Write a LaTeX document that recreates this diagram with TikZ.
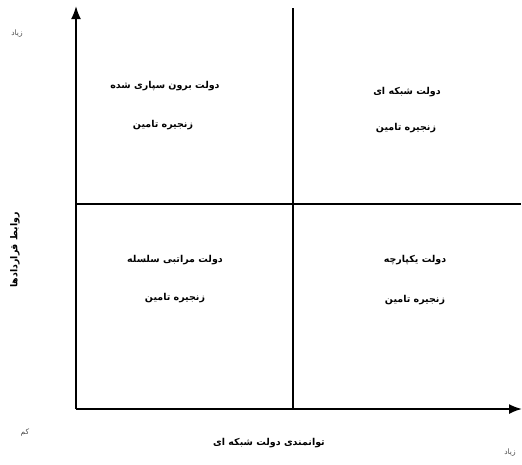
\documentclass[tikz,border=0pt]{standalone}
\usepackage{fontspec}
\newfontfamily\arabicfont[Script=Arabic]{DejaVu Sans}
\TeXXeTstate=1
\usetikzlibrary{arrows.meta}
\begin{document}
\begin{tikzpicture}[x=1pt,y=-1pt,
  axis/.style={line width=1.8pt,-{Latex[length=13pt,width=10pt]}},
  divider/.style={line width=1.6pt},
  lbl/.style={font=\arabicfont\bfseries\fontsize{9.5}{11}\selectfont,inner sep=1pt},
  small/.style={font=\arabicfont\fontsize{7.5}{9}\selectfont,text=black!70,inner sep=1pt}]
\useasboundingbox (0,0) rectangle (522,464);
\coordinate (origin) at (76,409);
\coordinate (ytip) at (76,6);
\coordinate (xtip) at (522,409);
\coordinate (vtop) at (293,8);
\coordinate (vbot) at (293,409);
\coordinate (hleft) at (76,204);
\coordinate (hright) at (521,204);
\draw[axis] (origin) -- (ytip);
\draw[axis] (origin) -- (xtip);
\draw[divider] (vtop) -- (vbot);
\draw[divider] (hleft) -- (hright);
\node[lbl] (tl1) at (165,86) {\beginR دولت برون سپاری شده\endR};
\node[lbl] (tl2) at (163,125) {\beginR زنجیره تامین\endR};
\node[lbl] (tr1) at (407,92) {\beginR دولت شبکه ای\endR};
\node[lbl] (tr2) at (406,128) {\beginR زنجیره تامین\endR};
\node[lbl] (bl1) at (175,260) {\beginR دولت مراتبی سلسله\endR};
\node[lbl] (bl2) at (175,298) {\beginR زنجیره تامین\endR};
\node[lbl] (br1) at (415,260) {\beginR دولت یکپارچه\endR};
\node[lbl] (br2) at (415,300) {\beginR زنجیره تامین\endR};
\node[lbl] (xlabel) at (269,443) {\beginR توانمندی دولت شبکه ای\endR};
\node[lbl,rotate=90] (ylabel) at (15,250) {\beginR روابط قراردادها\endR};
\node[small] (ymax) at (17,34) {\beginR زیاد\endR};
\node[small] (cmin) at (25,433) {\beginR کم\endR};
\node[small] (xmax) at (510,453) {\beginR زیاد\endR};
\end{tikzpicture}
\end{document}
